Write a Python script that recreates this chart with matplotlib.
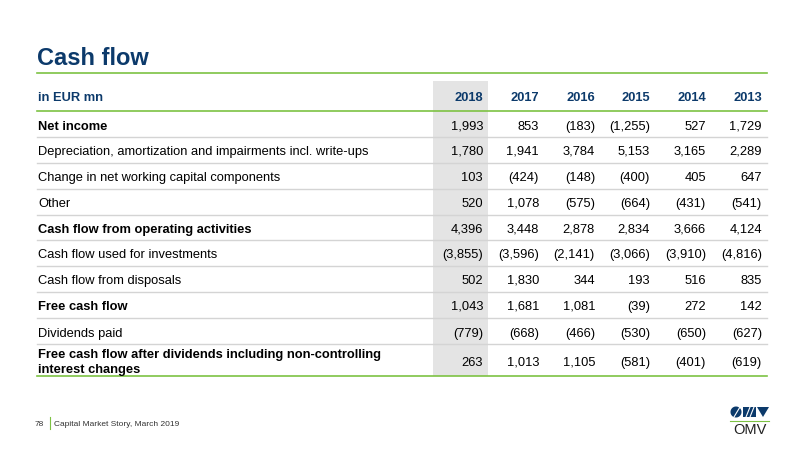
import matplotlib
matplotlib.use("Agg")
import matplotlib.pyplot as plt
from matplotlib.patches import Rectangle, Polygon, Wedge

plt.rcParams['font.family'] = ['Liberation Sans', 'DejaVu Sans']

# table content
title = "Cash flow"
unit_label = "in EUR mn"
years = ["2018", "2017", "2016", "2015", "2014", "2013"]
row_labels = [
    "Net income",
    "Depreciation, amortization and impairments incl. write-ups",
    "Change in net working capital components",
    "Other",
    "Cash flow from operating activities",
    "Cash flow used for investments",
    "Cash flow from disposals",
    "Free cash flow",
    "Dividends paid",
    "Free cash flow after dividends including non-controlling\ninterest changes",
]
bold_rows = [0, 4, 7, 9]
net_income = [1993, 853, -183, -1255, 527, 1729]
depreciation = [1780, 1941, 3784, 5153, 3165, 2289]
working_capital = [103, -424, -148, -400, 405, 647]
other = [520, 1078, -575, -664, -431, -541]
cf_operating = [4396, 3448, 2878, 2834, 3666, 4124]
cf_investments = [-3855, -3596, -2141, -3066, -3910, -4816]
cf_disposals = [502, 1830, 344, 193, 516, 835]
free_cash_flow = [1043, 1681, 1081, -39, 272, 142]
dividends = [-779, -668, -466, -530, -650, -627]
fcf_after_div = [263, 1013, 1105, -581, -401, -619]
values = [net_income, depreciation, working_capital, other, cf_operating,
          cf_investments, cf_disposals, free_cash_flow, dividends, fcf_after_div]
footer_page = "78"
footer_text = "Capital Market Story, March 2019"

BLUE = "#0c3a6b"
GREEN = "#7dc243"
GRID = "#d4d4d4"
BAND = "#e4e4e4"
FS = 9.3


def fmt(v):
    s = f"{abs(v):,}"
    return f"({s})" if v < 0 else s


fig = plt.figure(figsize=(8, 4.51), dpi=100)
ax = fig.add_axes([0, 0, 1, 1])
ax.set_xlim(0, 800)
ax.set_ylim(451, 0)
ax.axis('off')

left, right = 37, 767
col_right = [483, 539, 595, 650, 706, 762]
row_y = [125, 150, 176, 202, 228, 253, 279, 305, 332, 361]
sep_y = [137, 163, 189, 215, 240, 266, 292, 318, 344]
base = 4.6  # centre -> baseline offset for the table font

# title
ax.text(left, 65, title, fontsize=17, fontweight='bold', color=BLUE, va='baseline')
ax.plot([left, right], [73, 73], color=GREEN, lw=1.2)

# highlighted 2018 column
ax.add_patch(Rectangle((433, 81), 55, 376 - 81, color=BAND, lw=0, zorder=0))

# header
ax.text(left + 1, 96 + base, unit_label, fontsize=FS, fontweight='bold', color=BLUE, va='baseline')
for x, yr in zip(col_right, years):
    ax.text(x, 96 + base, yr, fontsize=FS, fontweight='bold', color=BLUE, va='baseline', ha='right')
ax.plot([left, right], [111, 111], color=GREEN, lw=1.2)

# rows
for i, (lab, vals) in enumerate(zip(row_labels, values)):
    w = 'bold' if i in bold_rows else 'normal'
    lines = lab.split("\n")
    y0 = row_y[i] - 7.5 * (len(lines) - 1)
    for k, line in enumerate(lines):
        ax.text(left + 1, y0 + 15 * k + base, line, fontsize=FS, fontweight=w,
                color='black', va='baseline')
    for x, v in zip(col_right, vals):
        ax.text(x, row_y[i] + base, fmt(v), fontsize=FS, color='black',
                va='baseline', ha='right')
for y in sep_y:
    ax.plot([left, right], [y, y], color=GRID, lw=1.0)
ax.plot([left, right], [376, 376], color=GREEN, lw=1.2)

# footer
ax.text(35, 426, footer_page, fontsize=6, color='#333333', va='baseline')
ax.plot([50, 50], [417, 429], color=GREEN, lw=0.8)
ax.text(54, 426, footer_text, fontsize=6, color='#333333', va='baseline')

# OMV logo
ax.add_patch(Wedge((736, 412), 5.5, 0, 360, color=BLUE, lw=0))
ax.plot([734, 740], [417, 407], color='white', lw=0.8)
ax.add_patch(Rectangle((743, 407), 13, 10, color=BLUE, lw=0))
ax.plot([746, 750], [417, 407], color='white', lw=0.8)
ax.plot([750, 754], [417, 407], color='white', lw=0.8)
ax.add_patch(Polygon([[757, 407], [769, 407], [763, 417]], closed=True, color=BLUE, lw=0))
ax.plot([730, 769], [421, 421], color=GREEN, lw=0.8)
ax.text(749.5, 434, "OMV", fontsize=10.5, color='#222222', va='baseline', ha='center')

fig.savefig("out.png", dpi=100)
